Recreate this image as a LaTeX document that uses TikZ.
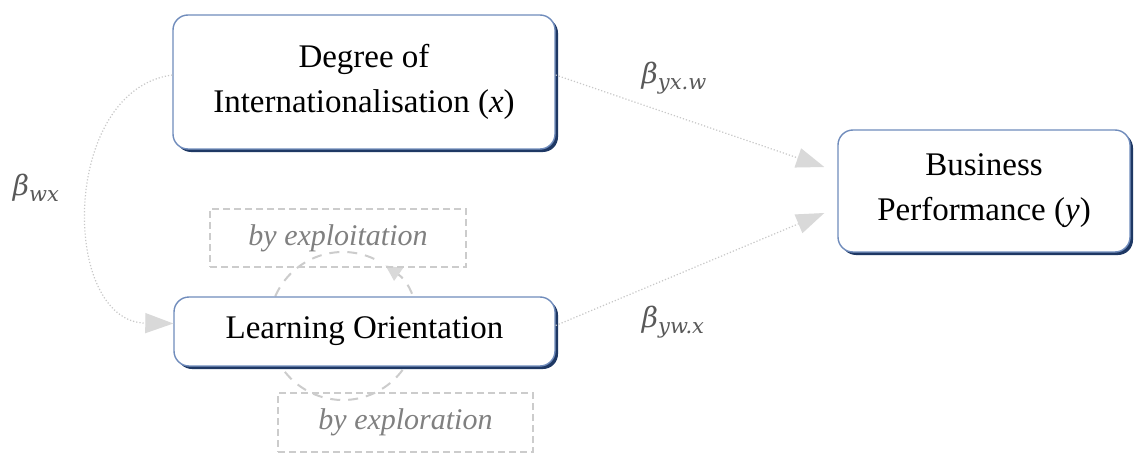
\RequirePackage{fix-cm}
\documentclass[tikz,border=0pt]{standalone}
\usepackage{fontspec}
\setmainfont{Liberation Serif}
\newfontfamily\betafont{DejaVu Serif}
\usetikzlibrary{arrows.meta,shadows}
\definecolor{boxborder}{RGB}{112,140,188}
\definecolor{boxshadow}{RGB}{30,56,100}
\definecolor{conngray}{RGB}{200,200,200}
\definecolor{headgray}{RGB}{217,217,217}
\definecolor{dashgray}{RGB}{204,204,204}
\definecolor{labgray}{RGB}{128,128,128}
\definecolor{betagray}{RGB}{89,89,89}
\newcommand{\betalabel}[1]{{\betafont\itshape\fontsize{28}{32}\selectfont β\raisebox{-6pt}{\fontsize{21}{24}\selectfont #1}}}
\tikzset{
  mainbox/.style={draw=boxborder, fill=white, line width=1.4pt, rounded corners=15pt,
    align=center, inner sep=0pt, font=\fontsize{33}{45}\selectfont,
    drop shadow={shadow xshift=3pt, shadow yshift=-3pt, fill=boxshadow, opacity=1}},
  dashbox/.style={draw=dashgray, line width=1.3pt, dash pattern=on 7pt off 4pt,
    minimum width=256pt, minimum height=58pt, inner sep=0pt,
    font=\fontsize{30}{36}\selectfont\itshape, text=labgray},
  conn/.style={draw=conngray, line width=1.2pt, dotted,
    -{Triangle[length=28pt,width=20pt,fill=headgray,color=headgray]}},
  loopline/.style={draw=dashgray, line width=2pt, dash pattern=on 10pt off 8pt,
    -{Triangle[length=16pt,width=15pt,fill=headgray,color=headgray]}},
  betalab/.style={text=betagray, inner sep=0pt}
}
\begin{document}
\begin{tikzpicture}[x=1pt,y=-1pt]
\fill[white] (0,0) rectangle (1141,460);
\useasboundingbox (0,0) rectangle (1141,460);

% self loop behind Learning Orientation
\coordinate (lc) at (343,326);
\draw[loopline] (lc) ++(65:74pt) arc[start angle=65, end angle=415, radius=74pt];

\node[mainbox, minimum width=382pt, minimum height=134pt] (deg) at (364,82)
  {Degree of\\Internationalisation (\textit{x})};
\node[mainbox, minimum width=381pt, minimum height=69pt] (lo) at (364.5,331.5)
  {Learning Orientation};
\node[mainbox, minimum width=292pt, minimum height=122pt] (bp) at (984,191)
  {Business\\Performance (\textit{y})};

\node[dashbox] (expt) at (338,238) {by exploitation};
\node[dashbox, minimum width=255pt, minimum height=59pt] (expr) at (405.5,422.5) {by exploration};

\draw[conn] ([yshift=7pt]deg.west) .. controls (60,90) and (60,322) .. ([yshift=8pt]lo.west);
\draw[conn] ([yshift=7pt]deg.east) -- ([xshift=-13pt,yshift=24pt]bp.west);
\draw[conn] ([yshift=6pt]lo.east) -- ([xshift=-13pt,yshift=-22pt]bp.west);

\node[betalab] (bwx) at (36,188) {\betalabel{wx}};
\node[betalab] (byxw) at (674,78) {\betalabel{yx.w}};
\node[betalab] (bywx) at (673,322) {\betalabel{yw.x}};
\end{tikzpicture}
\end{document}
